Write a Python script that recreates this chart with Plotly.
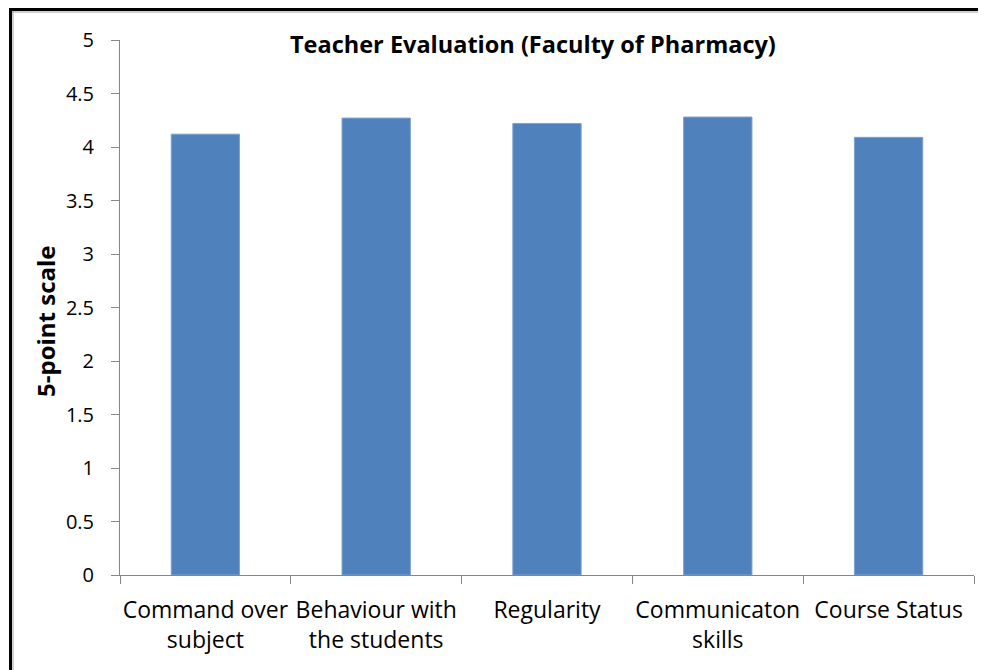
import plotly.graph_objects as go

categories = ["Command over<br>subject", "Behaviour with<br>the students", "Regularity",
              "Communicaton<br>skills", "Course Status"]
values = [4.12, 4.27, 4.22, 4.28, 4.09]
y_ticks = [0, 0.5, 1, 1.5, 2, 2.5, 3, 3.5, 4, 4.5, 5]
y_tick_labels = ["0", "0.5", "1", "1.5", "2", "2.5", "3", "3.5", "4", "4.5", "5"]

# page body has an 8px margin; work in reference-pixel coordinates
OFF = 8
W, H = 986 - OFF, 670 - OFF
PLOT_L, PLOT_R, PLOT_T, PLOT_B = 120, 974, 40, 575   # reference pixels
L = PLOT_L - OFF
R = W - (PLOT_R - OFF)
T = PLOT_T - OFF
B = H - (PLOT_B - OFF)
PW, PH = W - L - R, H - T - B

def px(x):
    return (x - PLOT_L) / PW

def py(y):
    return (PLOT_B - y) / PH

FONT = "Open Sans, sans-serif"
AXC = "#868686"

fig = go.Figure(go.Bar(
    x=categories, y=values,
    marker=dict(color="#4F81BD", line=dict(color="#7FA1D0", width=1)),
    width=0.4,
))

fig.update_layout(
    width=W, height=H,
    margin=dict(l=L, r=R, t=T, b=B, autoexpand=False),
    paper_bgcolor="white", plot_bgcolor="white",
    showlegend=False,
    font=dict(family=FONT, color="#000000"),
    xaxis=dict(
        type="category", tickson="boundaries", showgrid=False,
        showline=True, linecolor=AXC, linewidth=1,
        ticks="outside", ticklen=8, tickcolor=AXC,
        tickangle=0,
        tickfont=dict(size=23, family=FONT, color="#000"),
        ticklabelstandoff=14,
    ),
    yaxis=dict(
        range=[0, 5], tickvals=y_ticks, ticktext=y_tick_labels,
        showgrid=False, zeroline=False,
        showline=True, linecolor=AXC, linewidth=1,
        ticks="outside", ticklen=8, tickcolor=AXC,
        tickfont=dict(size=20, family=FONT, color="#000"),
        ticklabelstandoff=13,
    ),
    annotations=[
        dict(text="<b>Teacher Evaluation (Faculty of Pharmacy)</b>",
             xref="paper", yref="paper", x=px(533), y=py(44),
             xanchor="center", yanchor="middle", showarrow=False,
             font=dict(size=23.5, family=FONT, color="#000")),
        dict(text="<b>5-point scale</b>",
             xref="paper", yref="paper", x=px(45), y=py(321),
             xanchor="center", yanchor="middle", showarrow=False, textangle=-90,
             font=dict(size=24, family=FONT, color="#000")),
    ],
    shapes=[
        dict(type="line", xref="paper", yref="paper", x0=px(9), x1=px(990), y0=py(9.5), y1=py(9.5),
             line=dict(color="#000", width=3)),
        dict(type="line", xref="paper", yref="paper", x0=px(12), x1=px(990), y0=py(12), y1=py(12),
             line=dict(color="#A0A0A0", width=1)),
        dict(type="line", xref="paper", yref="paper", x0=px(10.5), x1=px(10.5), y0=py(8), y1=py(675),
             line=dict(color="#000", width=3)),
        dict(type="line", xref="paper", yref="paper", x0=px(13), x1=px(13), y0=py(11), y1=py(675),
             line=dict(color="#A0A0A0", width=1)),
    ],
)

fig.write_html("out.html")
